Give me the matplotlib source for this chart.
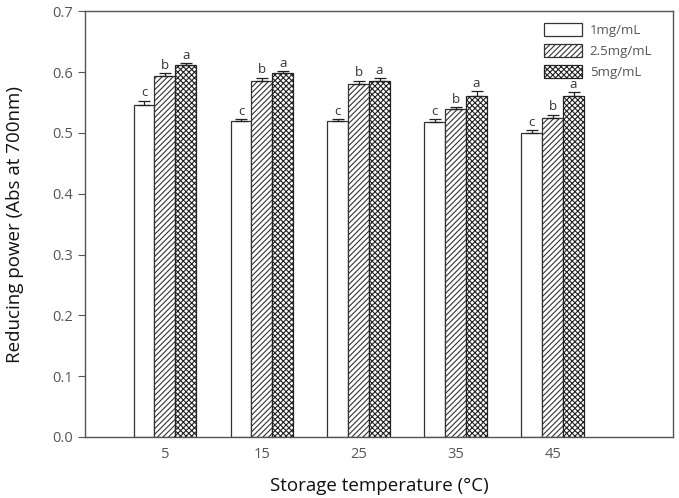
import matplotlib.pyplot as plt
import numpy as np

plt.rcParams['font.family'] = ['Open Sans', 'DejaVu Sans']
plt.rcParams['hatch.linewidth'] = 0.8

# data
temps = ['5', '15', '25', '35', '45']
series = ['1mg/mL', '2.5mg/mL', '5mg/mL']
v1 = [0.545, 0.520, 0.520, 0.518, 0.500]
v2 = [0.593, 0.585, 0.580, 0.540, 0.525]
v3 = [0.612, 0.598, 0.585, 0.560, 0.560]
e1 = [0.008, 0.002, 0.003, 0.005, 0.005]
e2 = [0.005, 0.006, 0.006, 0.002, 0.005]
e3 = [0.003, 0.004, 0.005, 0.008, 0.007]
letters = ['c', 'b', 'a']

values = [v1, v2, v3]
errors = [e1, e2, e3]
hatches = ['', '//////', 'xxxxxx']
edge = ['#333333', '#333333', '#222222']

fig = plt.figure(figsize=(6.79, 4.98), dpi=100)
ax = fig.add_axes([0.125, 0.1225, 0.866, 0.855])

x = np.arange(len(temps))
w = 0.215
for i in range(3):
    pos = x + (i - 1) * w
    ax.bar(pos, values[i], w, color='white', edgecolor=edge[i],
           hatch=hatches[i], linewidth=0.9, label=series[i], zorder=2)
    ax.errorbar(pos, values[i], yerr=[np.zeros(5), errors[i]], fmt='none',
                ecolor='#222222', elinewidth=0.9, capsize=4, capthick=0.9, zorder=3)
    for p, v, e in zip(pos, values[i], errors[i]):
        ax.text(p, v + e + 0.002, letters[i], ha='center', va='bottom',
                fontsize=9.5, color='#333333')

ax.set_xlim(-0.825, 5.24)
ax.set_ylim(0, 0.7)
ax.set_xticks(x)
ax.set_xticklabels(temps)
ax.set_yticks(np.arange(0, 0.71, 0.1))
ax.set_yticklabels(['%.1f' % t for t in np.arange(0, 0.71, 0.1)])
ax.tick_params(axis='x', length=0, pad=7, labelsize=10.5, labelcolor='#555555')
ax.tick_params(axis='y', length=5, direction='out', labelsize=10.5,
               labelcolor='#555555', color='#555555')
for s in ax.spines.values():
    s.set_color('#555555')
    s.set_linewidth(1.0)

ax.set_xlabel('Storage temperature (°C)', fontsize=13.5, labelpad=11, color='#111111')
ax.set_ylabel('Reducing power (Abs at 700nm)', fontsize=13.5, labelpad=20, color='#111111')

ax.legend(loc='upper right', bbox_to_anchor=(0.985, 1.0), frameon=False,
          fontsize=9.5, handlelength=2.9, handleheight=1.1, labelcolor='#555555',
          labelspacing=0.55, handletextpad=0.6)

fig.savefig('out.png', dpi=100)
